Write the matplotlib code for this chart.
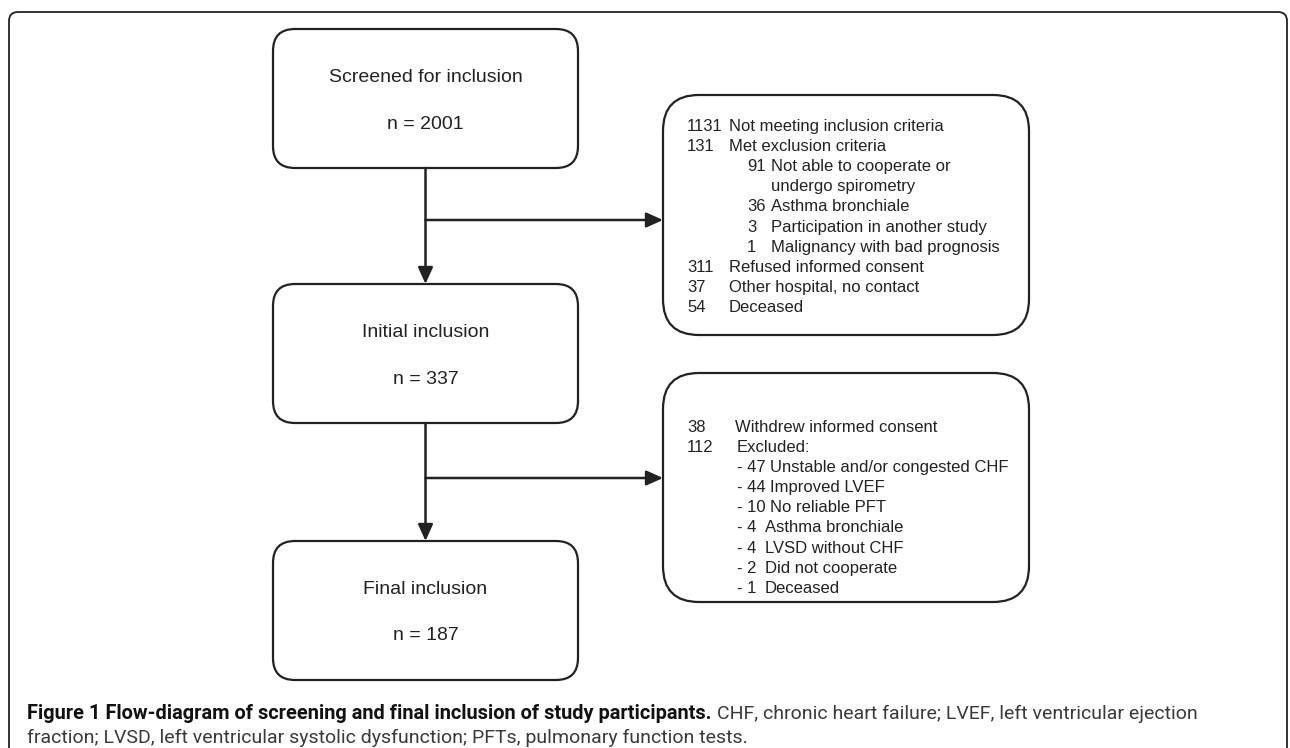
import matplotlib
matplotlib.use("Agg")
import matplotlib.pyplot as plt
from matplotlib.patches import FancyBboxPatch

# flow stages (left column)
stage_names = ["Screened for inclusion", "Initial inclusion", "Final inclusion"]
stage_counts = [2001, 337, 187]

# first exclusion box: number, text, indent level
excl1_nums = ["1131", "131", "91", "", "36", "3", "1", "311", "37", "54"]
excl1_text = ["Not meeting inclusion criteria", "Met exclusion criteria",
              "Not able to cooperate or", "undergo spirometry",
              "Asthma bronchiale", "Participation in another study",
              "Malignancy with bad prognosis", "Refused informed consent",
              "Other hospital, no contact", "Deceased"]
excl1_level = [0, 0, 1, 1, 1, 1, 1, 0, 0, 0]

# second exclusion box
excl2_nums = ["38", "112", "- 47", "- 44", "- 10", "- 4", "- 4", "- 2", "- 1"]
excl2_text = ["Withdrew informed consent", "Excluded:",
              "Unstable and/or congested CHF", "Improved LVEF",
              "No reliable PFT", "Asthma bronchiale", "LVSD without CHF",
              "Did not cooperate", "Deceased"]
excl2_level = [0, 0, 1, 1, 1, 1, 1, 1, 1]

caption_bold = "Figure 1 Flow-diagram of screening and final inclusion of study participants."
caption_rest = "CHF, chronic heart failure; LVEF, left ventricular ejection"
caption_line2 = ("fraction; LVSD, left ventricular systolic dysfunction; "
                 "PFTs, pulmonary function tests.")

INK = "#222222"
W, H = 1290, 748

fig = plt.figure(figsize=(W / 100, H / 100), dpi=100)
ax = fig.add_axes([0, 0, 1, 1])
ax.set_xlim(0, W)
ax.set_ylim(H, 0)
ax.axis("off")
renderer = fig.canvas.get_renderer()

# outer frame of the figure panel
frame = FancyBboxPatch((9, 12), 1278, 780, boxstyle="round,pad=0,rounding_size=9",
                       fc="none", ec=INK, lw=1.3, clip_on=False)
ax.add_patch(frame)

# left column boxes
box_x, box_w, box_h = 273, 305, 139
box_tops = [29, 284, 541]
cx = box_x + box_w / 2
for top, name, n in zip(box_tops, stage_names, stage_counts):
    ax.add_patch(FancyBboxPatch((box_x, top), box_w, box_h,
                                boxstyle="round,pad=0,rounding_size=22",
                                fc="white", ec=INK, lw=1.6))
    ax.text(cx, top + 48, name, ha="center", va="center", fontsize=14,
            family="Liberation Sans", color=INK)
    ax.text(cx, top + 95, f"n = {n}", ha="center", va="center", fontsize=14,
            family="Liberation Sans", color=INK)

# right column boxes
rbox_x, rbox_w = 663, 366
rboxes = [(95, 240), (373, 229)]
branch_y = [220, 478]
for (top, h) in rboxes:
    ax.add_patch(FancyBboxPatch((rbox_x, top), rbox_w, h,
                                boxstyle="round,pad=0,rounding_size=36",
                                fc="white", ec=INK, lw=1.6))

arrow_kw = dict(arrowstyle="-|>,head_length=1.0,head_width=0.45", color=INK,
                lw=1.8, shrinkA=0, shrinkB=0, mutation_scale=10)

# vertical arrows between stages
for i in range(len(box_tops) - 1):
    ax.annotate("", xy=(cx, box_tops[i + 1]), xytext=(cx, box_tops[i] + box_h),
                arrowprops=arrow_kw)
# horizontal arrows to exclusion boxes
for y in branch_y:
    ax.annotate("", xy=(rbox_x, y), xytext=(cx, y), arrowprops=arrow_kw)


def list_text(nums, texts, levels, top, num_x, txt_x, sub_num_x, sub_txt_x):
    for k, (nm, tx, lv) in enumerate(zip(nums, texts, levels)):
        y = top + 20.2 * k
        nx = num_x if lv == 0 else sub_num_x
        tx_x = txt_x if lv == 0 else sub_txt_x
        t = ax.text(nx, y, nm, ha="left", va="center", fontsize=12,
                    family="Liberation Sans", color=INK)
        if nm:
            # keep a space after wide numbers
            end = ax.transData.inverted().transform(
                t.get_window_extent(renderer))[1][0]
            tx_x = max(tx_x, end + 4.5)
        ax.text(tx_x, y, tx, ha="left", va="center", fontsize=12,
                family="Liberation Sans", color=INK)


list_text(excl1_nums, excl1_text, excl1_level, 126, 687, 729, 747, 771)
list_text(excl2_nums, excl2_text, excl2_level, 427, 687, 735, 737, 765)
# "Excluded:" sits under the sub-list column
for t in ax.texts:
    if t.get_text() == "Excluded:":
        t.set_x(737)

# caption
cap_font = "Roboto"
t1 = ax.text(27, 719, caption_bold, ha="left", va="baseline", fontsize=14.4,
             family=cap_font, weight="bold", color="#111111")
ax.annotate(caption_rest, xy=(1, 0), xycoords=t1, xytext=(4, 0),
            textcoords="offset points", ha="left", va="bottom", fontsize=14.0,
            family=cap_font, color="#3a3a3a")
ax.text(27, 743, caption_line2, ha="left", va="baseline", fontsize=14.0,
        family=cap_font, color="#3a3a3a")

fig.savefig("out.png", dpi=100)
